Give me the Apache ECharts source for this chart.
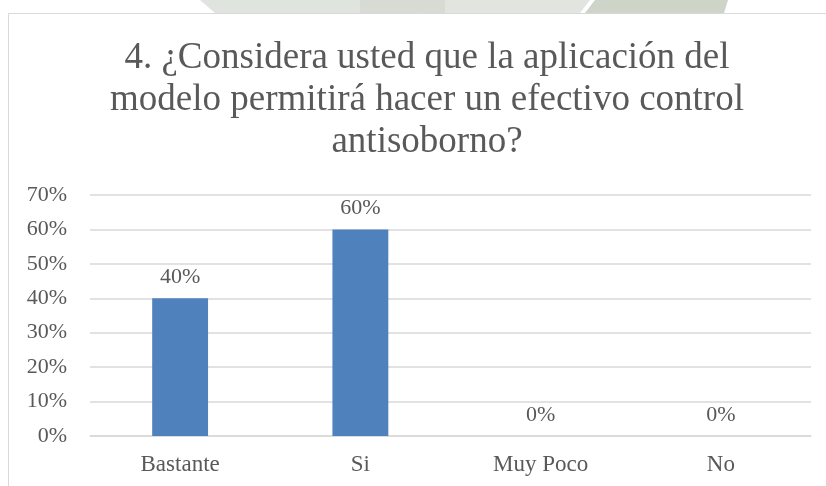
<!DOCTYPE html>
<html>
<head>
<meta charset="utf-8">
<script src="https://cdn.jsdelivr.net/npm/echarts@6/dist/echarts.min.js"></script>
<style>
html,body{margin:0;padding:0;background:#fff;}
#chart{width:826px;height:486px;}
</style>
</head>
<body>
<div id="chart"></div>
<script>
const titleText = '4. ¿Considera usted que la aplicación del\nmodelo permitirá hacer un efectivo control\nantisoborno?';
const categories = ['Bastante', 'Si', 'Muy Poco', 'No'];
const values = [40, 60, 0, 0];
const yTicks = [0, 10, 20, 30, 40, 50, 60, 70];

const font = '"Liberation Serif", "Times New Roman", serif';
const textColor = '#595959';
const chart = echarts.init(document.getElementById('chart'), null, {renderer: 'canvas'});
chart.setOption({
  backgroundColor: '#ffffff',
  animation: false,
  graphic: [
    {type: 'polygon', z: -10, silent: true, shape: {points: [[200,0],[360,0],[360,13],[215,13]]}, style: {fill: '#e0e4de'}},
    {type: 'polygon', z: -10, silent: true, shape: {points: [[360,0],[445,0],[445,13],[360,13]]}, style: {fill: '#d7dbd3'}},
    {type: 'polygon', z: -10, silent: true, shape: {points: [[445,0],[590,0],[580,13],[445,13]]}, style: {fill: '#e1e4df'}},
    {type: 'polygon', z: -10, silent: true, shape: {points: [[595,0],[728,0],[724,13],[585,13]]}, style: {fill: '#ced4c7'}},
    {type: 'rect', z: -5, silent: true, shape: {x: 8.5, y: 13.5, width: 900, height: 600}, style: {fill: '#ffffff', stroke: '#d9d9d9', lineWidth: 1}}
  ],
  title: {
    text: titleText,
    left: 422,
    top: 32,
    textAlign: 'center',
    textStyle: {fontFamily: font, fontSize: 37, fontWeight: 'normal', color: textColor, lineHeight: 42}
  },
  grid: {left: 90, right: 15, top: 195, bottom: 50, containLabel: false},
  xAxis: {
    type: 'category',
    data: categories,
    axisLine: {show: true, lineStyle: {color: '#d9d9d9', width: 1.5}},
    axisTick: {show: false},
    axisLabel: {fontFamily: font, fontSize: 23, color: textColor, margin: 17}
  },
  yAxis: {
    type: 'value',
    min: yTicks[0],
    max: yTicks[yTicks.length - 1],
    interval: 10,
    axisLine: {show: false},
    axisTick: {show: false},
    splitLine: {lineStyle: {color: '#d9d9d9', width: 1.5}},
    axisLabel: {fontFamily: font, fontSize: 22, color: textColor, margin: 23, formatter: '{value}%'}
  },
  series: [{
    type: 'bar',
    data: values,
    barWidth: '31%',
    itemStyle: {color: '#4f81bd'},
    label: {show: true, position: 'top', distance: 10, fontFamily: font, fontSize: 22, color: textColor, formatter: '{c}%'}
  }]
});
</script>
</body>
</html>
